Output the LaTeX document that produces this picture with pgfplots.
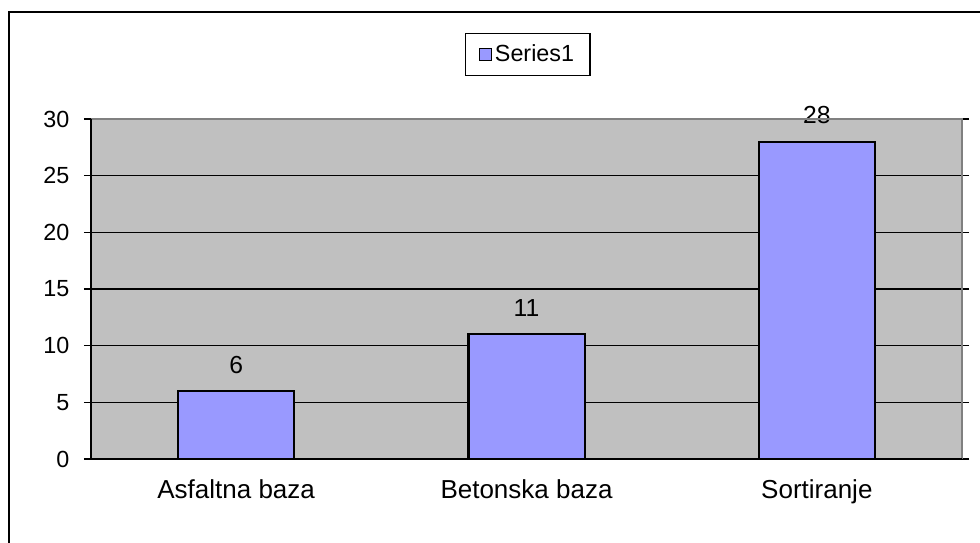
\documentclass[border=0pt]{standalone}
\usepackage{pgfplots}
\pgfplotsset{compat=1.18}
\usepackage{fontspec}
\setmainfont{Liberation Sans}
\definecolor{plotbg}{HTML}{C0C0C0}
\definecolor{barfill}{HTML}{9999FF}
\begin{document}
\begin{tikzpicture}
\useasboundingbox (0,0) rectangle (735pt,406.5pt);
\draw[black, line width=1pt] (6.75pt,-2pt) -- (6.75pt,397.5pt) -- (737pt,397.5pt);
\begin{axis}[
  at={(68.25pt,62.25pt)}, anchor=south west,
  scale only axis, width=653.25pt, height=255pt,
  xmin=-0.5, xmax=2.5, ymin=0, ymax=30,
  clip=false,
  /pgf/number format/assume math mode=true,
  axis background/.style={fill=plotbg},
  axis line style={draw=none},
  xtick={0,1,2},
  xticklabels={Asfaltna baza, Betonska baza, Sortiranje},
  xtick style={draw=none},
  minor xtick={-0.5,0.5,1.5,2.5},
  minor x tick style={black, line width=1pt},
  ytick={0,5,...,30},
  y tick style={black, line width=1pt},
  tick align=outside,
  major tick length=5.25pt, minor tick length=5.25pt,
  ymajorgrids, major grid style={black, line width=0.8pt},
  tick label style={text=black},
  xticklabel style={font=\fontsize{19.5}{23}\selectfont, yshift=-7pt},
  yticklabel style={font=\fontsize{17.5}{21}\selectfont, xshift=-7.5pt},
  ybar, bar width=0.4,
  nodes near coords,
  every node near coord/.append style={font=\fontsize{18.5}{22}\selectfont, black, yshift=9pt},
  legend style={at={(0.5017,1.253)}, anchor=north, draw=black, line width=0.9pt,
    font=\fontsize{17.5}{21}\selectfont, inner xsep=10pt, inner ysep=6.5pt},
  legend image code/.code={\draw[fill=barfill, draw=black, line width=0.8pt] (0pt,-4.5pt) rectangle (9pt,4.5pt);},
]
\addplot[fill=barfill, draw=black, line width=1.6pt] coordinates {(0,6) (1,11) (2,28)};
\legend{Series1}
\end{axis}
\draw[gray, line width=1.2pt] (68.25pt,317.25pt) -- (721.5pt,317.25pt) -- (721.5pt,62.25pt);
\draw[black, line width=1.2pt] (68.25pt,317.25pt) -- (68.25pt,62.25pt) -- (721.5pt,62.25pt);
\end{tikzpicture}
\end{document}
